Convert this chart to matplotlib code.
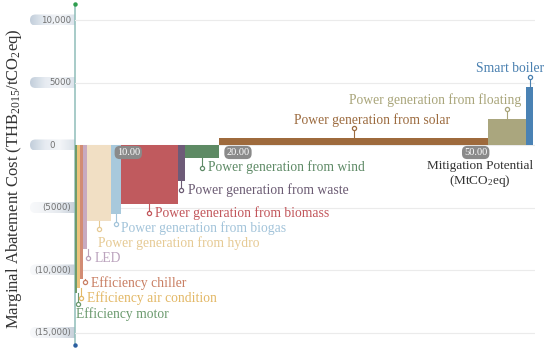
import matplotlib
matplotlib.use('Agg')
import matplotlib.pyplot as plt
import numpy as np
from matplotlib.patches import FancyBboxPatch
from matplotlib.colors import LinearSegmentedColormap

plt.rcParams['font.family'] = ['Liberation Serif', 'DejaVu Serif']
plt.rcParams['mathtext.fontset'] = 'custom'
plt.rcParams['mathtext.rm'] = 'Liberation Serif'
plt.rcParams['mathtext.it'] = 'Liberation Serif:italic'

# ---------------- data ----------------
measures = ['Efficiency motor', 'Efficiency air condition', 'Efficiency chiller', 'LED',
            'Power generation from hydro', 'Power generation from biogas',
            'Power generation from biomass', 'Power generation from waste',
            'Power generation from wind', 'Power generation from solar',
            'Power generation from floating', 'Smart boiler']
potential = [0.25, 0.34, 0.43, 0.54, 2.94, 1.26, 7.21, 0.84, 4.31, 33.84, 4.78, 0.88]  # MtCO2eq
cost = [-11800, -11400, -10700, -8300, -6100, -5550, -4750, -2900, -1000, 550, 2100, 4650]  # THB/tCO2eq
bar_colors = ['#6e9c6c', '#ecc47c', '#d28c74', '#c8aac0', '#f1dfc4', '#a8c9dc',
              '#c05a5e', '#6e5b78', '#5e8a64', '#9e6a3c', '#aaa67e', '#4a82b4']
text_colors = ['#6b9a6e', '#e3b866', '#c97f63', '#bba3bd', '#e6ca94', '#a3c4da',
               '#c2565b', '#6b5b73', '#5e8a66', '#9c6b3f', '#a9a57a', '#4a80b0']
y_ticks = [10000, 5000, 0, -5000, -10000, -15000]
y_tick_labels = ['10,000', '5000', '0', '(5000)', '(10,000)', '(15,000)']
x_marks = [6.7, 20.5, 50.4]
x_mark_labels = ['10.00', '20.00', '50.00']

# annotation layout in pixels (image y downward): marker dx, marker dy, text dx, text dy, ha
ann_layout = [(2, 11, -1.5, 11, 'left'), (2.8, 10, 6, 0.5, 'left'), (3.7, 3.5, 6, 0.5, 'left'),
              (3, 9.5, 6, 0.5, 'left'), (0, 8, -1, 14, 'left'), (0, 9.5, 5.5, 4.5, 'left'),
              (0, 9, 6, 0, 'left'), (0, 9, 6.5, 0, 'left'), (0, 10, 6.5, 0, 'left'),
              (0, -10, 18, -8, 'center'), (0, -10, 14, -9, 'right'), (0, -10, 15, -8, 'right')]

W, H = 550, 352
fig = plt.figure(figsize=(W / 100, H / 100), dpi=100)
bg = fig.add_axes([0, 0, 1, 1], zorder=-1)
bg.set_xlim(0, W); bg.set_ylim(0, H); bg.axis('off')
ax = fig.add_axes([75 / W, 7 / H, 460 / W, 341 / H], zorder=1)
ax.set_facecolor('none')
fg = fig.add_axes([0, 0, 1, 1], zorder=5)
fg.set_xlim(0, W); fg.set_ylim(0, H); fg.axis('off'); fg.set_facecolor('none')

lefts = np.concatenate([[0], np.cumsum(potential)[:-1]])
ax.bar(lefts, cost, width=potential, align='edge', color=bar_colors, zorder=3, linewidth=0)
ax.set_xlim(0, 57.86)
ax.set_ylim(-16000, 11280)
ax.set_yticks(y_ticks)
ax.set_yticklabels([])
ax.set_xticks([])
ax.tick_params(length=0)
ax.grid(axis='y', color='#ebebeb', lw=0.8, zorder=0)
for s in ax.spines.values():
    s.set_visible(False)

# axis line with end dots
bg.plot([75, 75], [7, 348], color='#8fbdb9', lw=1.1, zorder=2)
fg.plot([75], [348], 'o', color='#2e9e4e', ms=2.2)
fg.plot([75], [7], 'o', color='#2a5fa0', ms=2.2)

# y tick pills with gradients
pos_cmap = LinearSegmentedColormap.from_list('p', ['#c2cedb', '#e6ebf1', '#f3f5f8', '#dbe2ea'])
neg_cmap = LinearSegmentedColormap.from_list('n', ['#f8f9fb', '#f1f3f6', '#e5e9ee', '#c6cfd9'])
grad = np.linspace(0, 1, 200).reshape(1, -1)
for v, lab in zip(y_ticks, y_tick_labels):
    yc = ax.transData.transform((0, v))[1]
    patch = FancyBboxPatch((30, yc - 5.5), 60, 11, boxstyle='round,pad=0,rounding_size=5.5',
                           transform=bg.transData, facecolor='none', edgecolor='none')
    bg.add_patch(patch)
    im = bg.imshow(grad, cmap=pos_cmap if v >= 0 else neg_cmap, aspect='auto',
                   extent=(30, 75, yc - 5.5, yc + 5.5), zorder=1)
    im.set_clip_path(patch)
    if lab == '0':
        fg.text(52, yc, lab, ha='center', va='center', fontsize=6.2, color='#707070', family='DejaVu Sans')
    else:
        fg.text(71, yc, lab, ha='right', va='center', fontsize=6.2, color='#707070', family='DejaVu Sans')
bg.set_xlim(0, W); bg.set_ylim(0, H)

# x position pills
for xm, lab in zip(x_marks, x_mark_labels):
    ax.text(xm, -600, lab, ha='center', va='center', fontsize=7.5, color='white', zorder=6,
            bbox=dict(boxstyle='round,pad=0.2,rounding_size=0.5', fc='#8a8a8a', ec='none'))

# annotations
for i, (name, c) in enumerate(zip(measures, cost)):
    mdx, mdy, tdx, tdy, ha = ann_layout[i]
    xc = lefts[i] + potential[i] / 2
    p = ax.transData.transform((xc, c))
    mx, my = p[0] + mdx, p[1] - mdy
    fg.plot([mx, mx], [p[1], my], color=text_colors[i], lw=0.8)
    fg.plot([mx], [my], 'o', ms=3, mfc='white', mec=text_colors[i], mew=0.9)
    fg.text(mx + tdx, my - tdy, name, ha=ha, va='center', fontsize=9.8, color=text_colors[i])

# axis titles
ax.text(50.9, -2360, 'Mitigation Potential\n(MtCO$_2$eq)', ha='center', va='center',
        fontsize=9.5, color='#333333', linespacing=1.15, zorder=6)
fig.text(14 / W, 173 / H, r'Marginal Abatement Cost (THB$_{2015}$/tCO$_2$eq)', rotation=90,
         ha='center', va='center', fontsize=12, color='#333333')

fig.savefig('out.png', dpi=100)
